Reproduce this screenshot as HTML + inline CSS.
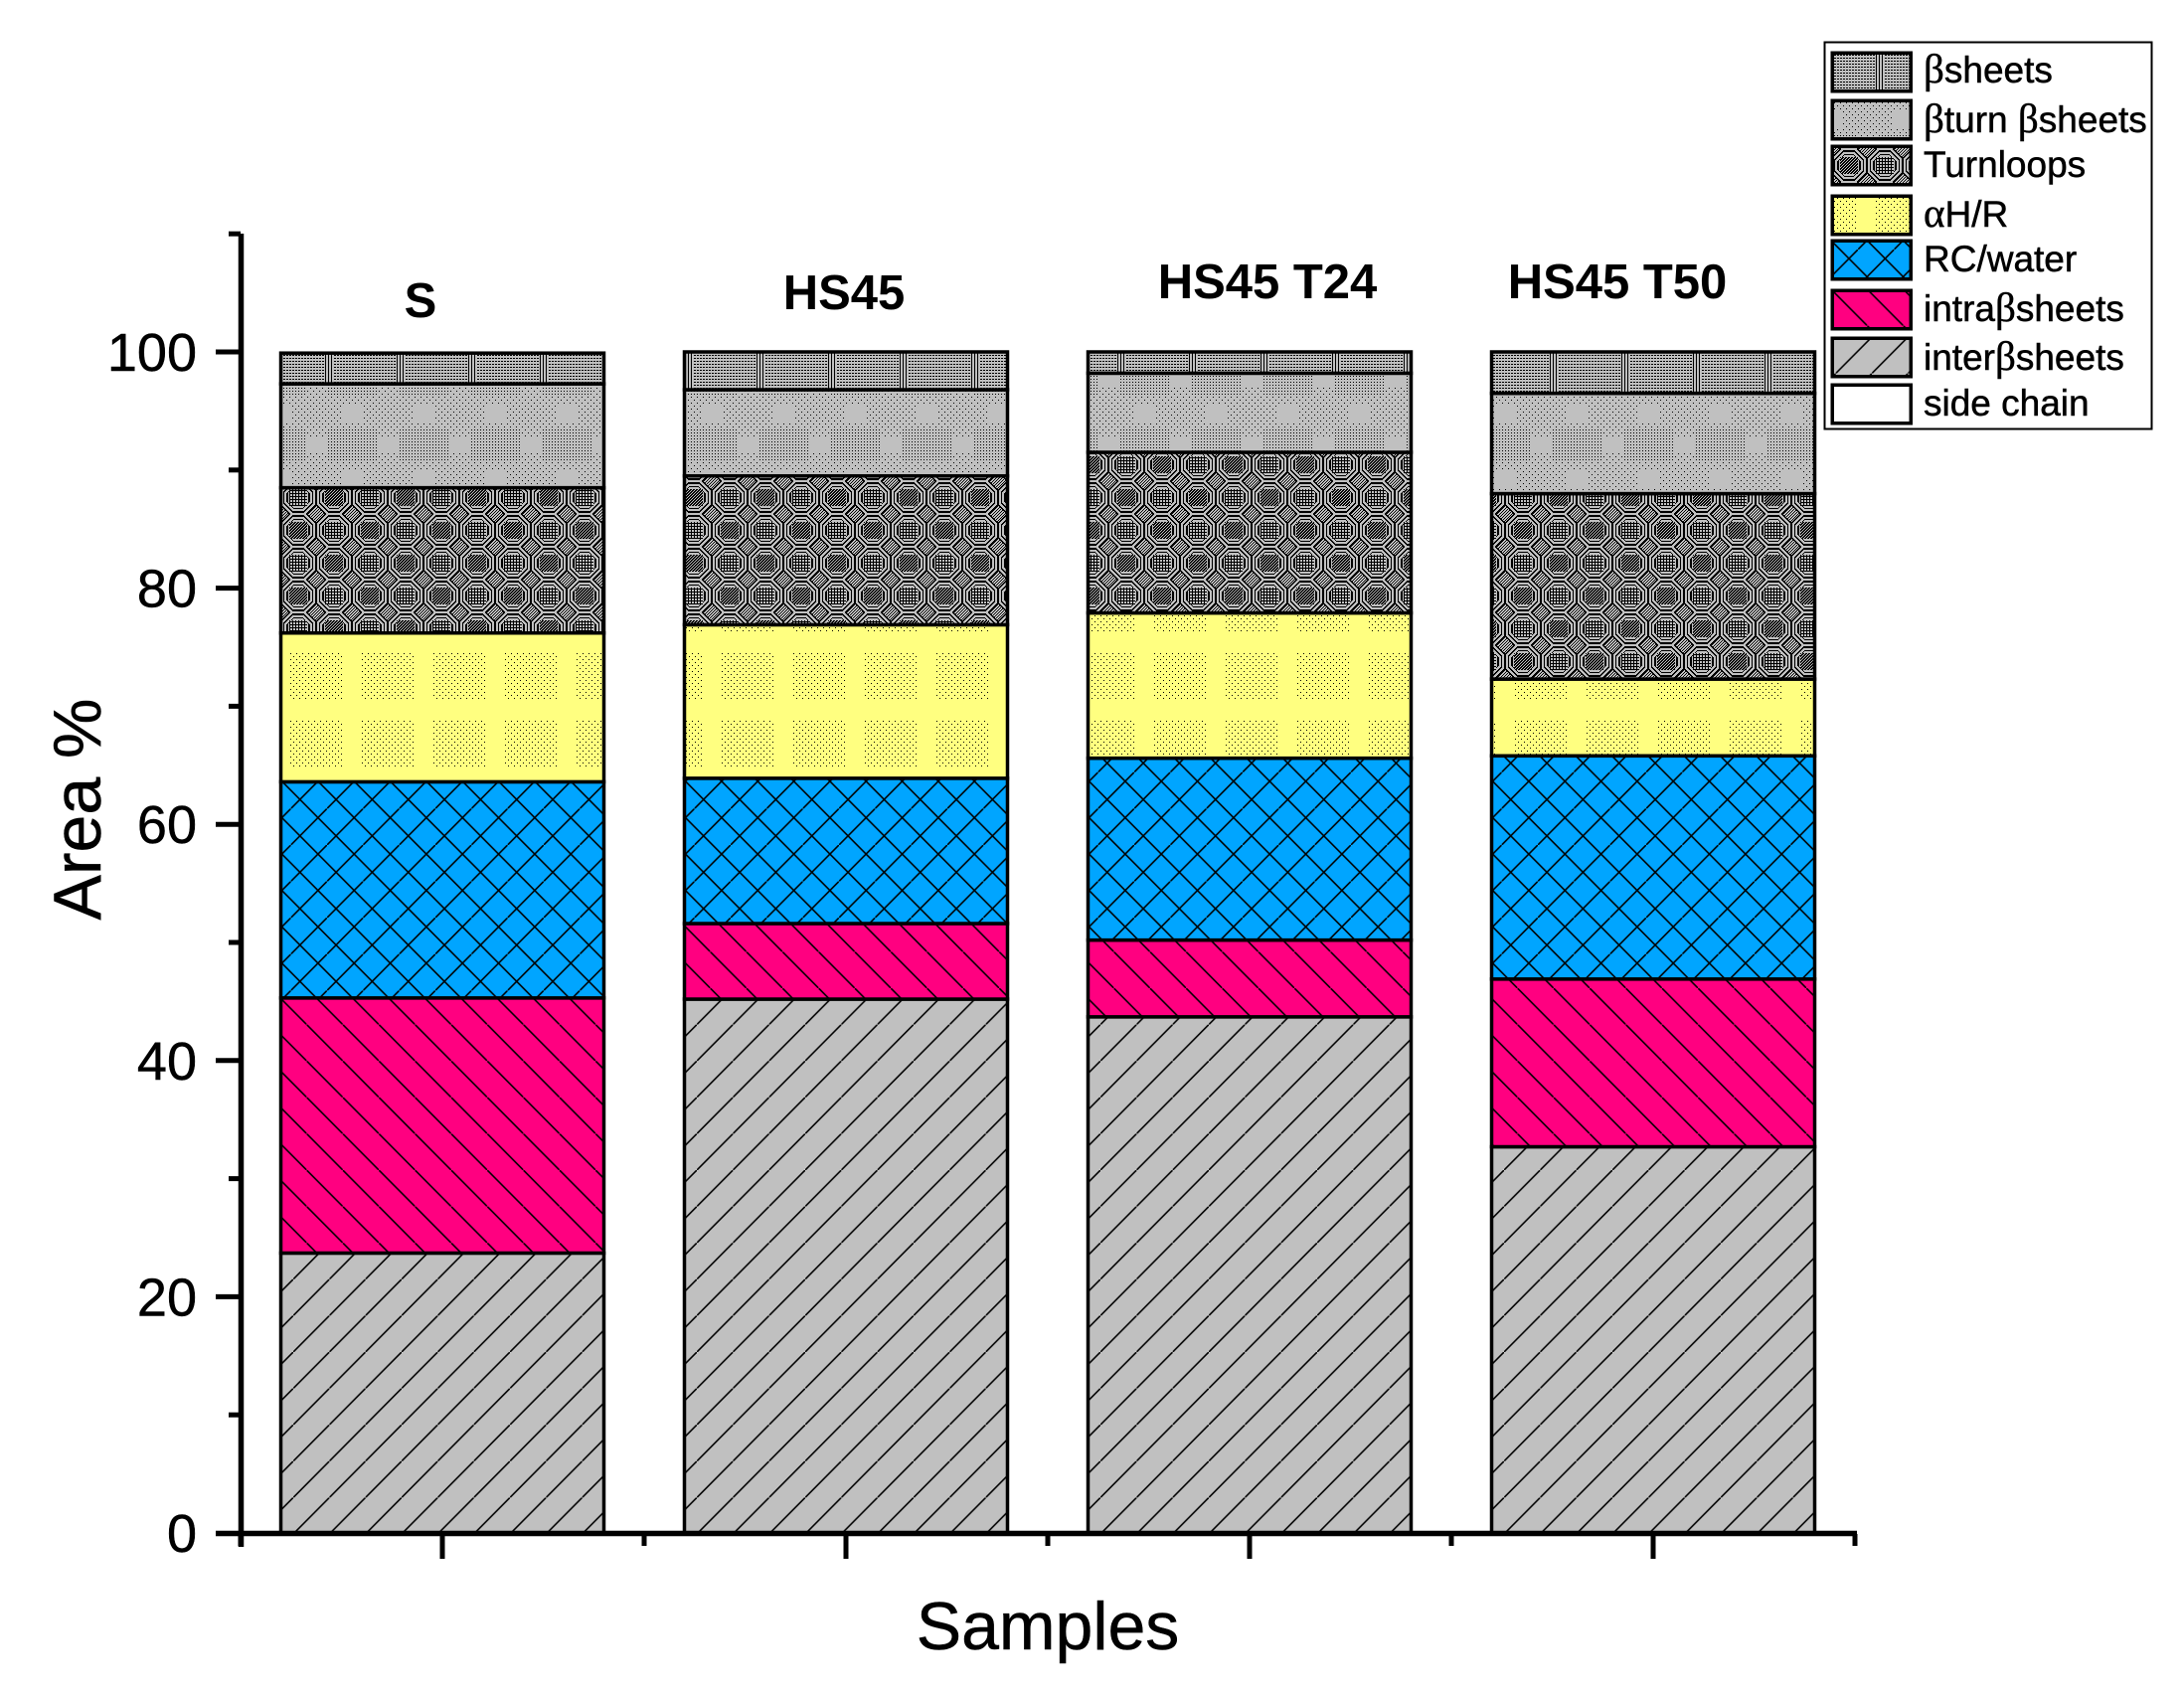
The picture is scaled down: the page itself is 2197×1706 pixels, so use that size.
<!DOCTYPE html>
<html lang="en">
<head>
<meta charset="utf-8">
<title>Area % by sample</title>
<style>
html,body{margin:0;padding:0;background:#fff;}
svg{display:block;font-family:"Liberation Sans",sans-serif;}
.g{font-family:"Liberation Serif",serif;font-size:41px;}
.w{stroke:#000;stroke-width:.5px;}
</style>
</head>
<body>
<svg id="chart" xmlns="http://www.w3.org/2000/svg" width="2197" height="1706" viewBox="0 0 2197 1706">
<defs id="defs">
  <pattern id="p-inter" patternUnits="userSpaceOnUse" width="36.33" height="36.6" patternTransform="translate(14,1)">
    <rect width="38" height="38" fill="#c0c0c0"/>
    <path d="M-1 37.607L37.33 -1.007" stroke="#000" stroke-width="1.6" fill="none"/>
  </pattern>
  <pattern id="p-intra" patternUnits="userSpaceOnUse" width="36.33" height="36.6" patternTransform="translate(27.5,1)">
    <rect width="38" height="38" fill="#ff0080"/>
    <path d="M-1 -1.007L37.33 37.607" stroke="#000" stroke-width="1.6" fill="none"/>
  </pattern>
  <pattern id="p-rc" patternUnits="userSpaceOnUse" width="36.33" height="36.6" patternTransform="translate(11.65,3.35)">
    <rect width="38" height="38" fill="#00a5ff"/>
    <path d="M-1 37.607L37.33 -1.007M-1 17.29L19.165 37.607M17.165 -1.007L37.33 19.307" stroke="#000" stroke-width="1.6" fill="none"/>
  </pattern>
  <pattern id="l-inter" patternUnits="userSpaceOnUse" width="36.33" height="36.6" patternTransform="translate(4.7,0)">
    <rect width="38" height="38" fill="#c0c0c0"/>
    <path d="M-1 37.607L37.33 -1.007" stroke="#000" stroke-width="1.6" fill="none"/>
  </pattern>
  <pattern id="l-intra" patternUnits="userSpaceOnUse" width="36.33" height="36.6">
    <rect width="38" height="38" fill="#ff0080"/>
    <path d="M-1 -1.007L37.33 37.607" stroke="#000" stroke-width="1.6" fill="none"/>
  </pattern>
  <pattern id="l-rc" patternUnits="userSpaceOnUse" width="36.33" height="36.6" patternTransform="translate(-9.25,9.95)">
    <rect width="38" height="38" fill="#00a5ff"/>
    <path d="M-1 37.607L37.33 -1.007M-1 17.29L19.165 37.607M17.165 -1.007L37.33 19.307" stroke="#000" stroke-width="1.6" fill="none"/>
  </pattern>
</defs>

<g id="bars"></g>
<g id="axes"></g>

<text class="w" x="1054" y="1659" font-size="68" text-anchor="middle">Samples</text>
<text class="w" transform="translate(101,814) rotate(-90)" font-size="68" text-anchor="middle">Area %</text>

<text x="423" y="319" font-weight="700" font-size="49" text-anchor="middle">S</text>
<text x="849" y="311" font-weight="700" font-size="49" text-anchor="middle">HS45</text>
<text x="1275" y="300" font-weight="700" font-size="49" text-anchor="middle">HS45 T24</text>
<text x="1627" y="300" font-weight="700" font-size="49" text-anchor="middle">HS45 T50</text>

<g>
  <rect x="1835.5" y="42.5" width="329" height="389" fill="#fff" stroke="#000" stroke-width="2"/>
  <g>
    <g transform="translate(1842,52)"><rect x="1.25" y="1.25" width="79" height="38.5" fill="url(#l-beta)" stroke="#000" stroke-width="3.5"/></g>
    <text class="w" x="1935" y="83" font-size="37"><tspan class="g">β</tspan>sheets</text>
  </g>
  <g>
    <g transform="translate(1842,100)"><rect x="1.25" y="1.25" width="79" height="38.5" fill="url(#l-turn)" stroke="#000" stroke-width="3.5"/></g>
    <text class="w" x="1935" y="133" font-size="37"><tspan class="g">β</tspan>turn <tspan class="g">β</tspan>sheets</text>
  </g>
  <g>
    <g transform="translate(1842,146)"><rect x="1.25" y="1.25" width="79" height="38.5" fill="url(#l-loops)" stroke="#000" stroke-width="3.5"/></g>
    <text class="w" x="1935" y="178" font-size="37">Turnloops</text>
  </g>
  <g>
    <g transform="translate(1842,196)"><rect x="1.25" y="1.25" width="79" height="38.5" fill="url(#l-alpha)" stroke="#000" stroke-width="3.5"/></g>
    <text class="w" x="1935" y="228" font-size="37"><tspan class="g">α</tspan>H/R</text>
  </g>
  <g>
    <g transform="translate(1842,241)"><rect x="1.25" y="1.25" width="79" height="38.5" fill="url(#l-rc)" stroke="#000" stroke-width="3.5"/></g>
    <text class="w" x="1935" y="273" font-size="37">RC/water</text>
  </g>
  <g>
    <g transform="translate(1842,291)"><rect x="1.25" y="1.25" width="79" height="38.5" fill="url(#l-intra)" stroke="#000" stroke-width="3.5"/></g>
    <text class="w" x="1935" y="323" font-size="37">intra<tspan class="g">β</tspan>sheets</text>
  </g>
  <g>
    <g transform="translate(1842,339)"><rect x="1.25" y="1.25" width="79" height="38.5" fill="url(#l-inter)" stroke="#000" stroke-width="3.5"/></g>
    <text class="w" x="1935" y="372" font-size="37">inter<tspan class="g">β</tspan>sheets</text>
  </g>
  <g>
    <g transform="translate(1842,386)"><rect x="1.25" y="1.25" width="79" height="38.5" fill="#fff" stroke="#000" stroke-width="3.5"/></g>
    <text class="w" x="1935" y="418" font-size="37">side chain</text>
  </g>
</g>
</svg>

<script>
// Chart data
var categories = ["S", "HS45", "HS45 T24", "HS45 T50"];
var sideChain  = [0, 0, 0, 0];
var interBeta  = [23.7, 45.2, 43.7, 32.7];
var intraBeta  = [21.6, 6.4, 6.5, 14.2];
var rcWater    = [18.3, 12.3, 15.4, 18.9];
var alphaHR    = [12.6, 13.0, 12.3, 6.5];
var turnLoops  = [12.3, 12.6, 13.6, 15.7];
var betaTurn   = [8.8, 7.3, 6.7, 8.5];
var betaSheets = [2.6, 3.2, 1.8, 3.5];
var yMajorTicks = [0, 20, 40, 60, 80, 100];
var yMinorTicks = [10, 30, 50, 70, 90, 110];

var NS = "http://www.w3.org/2000/svg";
function yPx(v) { return 1542 - 11.88 * v; }
function hPx(v) { return 11.88 * v; }
function xCenter(i) { return 445 + 406 * i; }
var barRectWidth = 325;

// Fine dither tiles
function tilePath(fn, w, h) {
  var d = "";
  for (var y = 0; y < h; y++) {
    for (var x = 0; x < w; x++) {
      if (fn(x, y)) d += "M" + x + " " + y + "h1v1h-1z";
    }
  }
  return d;
}
function sparse(x, y) { return (x % 6 === 0 && y % 6 === 0) || (x % 6 === 3 && y % 6 === 3); }
var loopsTile = tilePath(function (x, y) {
  var ci = Math.floor(x / 36), cj = Math.floor(y / 33);
  var dx = Math.abs(x + 0.5 - 36 * ci - 18), dy = Math.abs(y + 0.5 - 33 * cj - 16.5);
  var t = (ci + cj) % 2;
  if (dx < 9 && dy < 9) {
    if (t === 0) return (x + y) % 3 !== 0;
    return x % 3 === 0 || y % 3 === 0;
  }
  if (dx + dy > 26) return (x + y) % 3 === 0;
  var d = Math.max(dx, dy, (dx + dy) * 0.72);
  return (d % 3.5) < 1.25;
}, 72, 66);
var turnTile = tilePath(function (x, y) {
  var ax = Math.abs(x + 0.5 - 18), ay = Math.abs(y + 0.5 - 16.5);
  var bx = Math.abs(x + 0.5 - 54), by = Math.abs(y + 0.5 - 49.5);
  if (ax < 10 && ay < 8) return false;
  if (bx < 10 && by < 9) return false;
  if (y < 33 && !(x >= 8 && x < 28)) return x % 3 === 0 && y % 3 === 0;
  return sparse(x, y);
}, 72, 66);
var betaTile = tilePath(function (x, y) {
  if (Math.abs(x - 48) < 5) return x % 3 === 0;
  return y % 3 === 0 && x % 3 !== 2;
}, 72, 66);
var alphaTile = tilePath(function (x, y) {
  if (x >= 52 || y >= 48) return false;
  return sparse(x, y);
}, 72, 68);

function makePattern(id, d, w, h, bg, tx, ty) {
  var p = document.createElementNS(NS, "pattern");
  p.setAttribute("id", id);
  p.setAttribute("patternUnits", "userSpaceOnUse");
  p.setAttribute("width", w);
  p.setAttribute("height", h);
  p.setAttribute("patternTransform", "translate(" + tx + "," + ty + ")");
  var r = document.createElementNS(NS, "rect");
  r.setAttribute("width", w);
  r.setAttribute("height", h);
  r.setAttribute("fill", bg);
  p.appendChild(r);
  var t = document.createElementNS(NS, "path");
  t.setAttribute("d", d);
  t.setAttribute("fill", "#000");
  t.setAttribute("shape-rendering", "crispEdges");
  p.appendChild(t);
  document.getElementById("defs").appendChild(p);
}
// legend swatch patterns
makePattern("l-loops", loopsTile, 72, 66, "#c0c0c0", 0, 4);
makePattern("l-turn", turnTile, 72, 66, "#c0c0c0", 18, -30);
makePattern("l-beta", betaTile, 72, 66, "#c0c0c0", 0, 0);
makePattern("l-alpha", alphaTile, 72, 68, "#ffff80", -27, 0);
// per-bar patterns: the dither runs on a page-wide grid of 72.5 px
function barPhase(i) { return -Math.round((xCenter(i) - xCenter(0)) % 72.5); }
categories.forEach(function (cat, i) {
  makePattern("p-loops-" + i, loopsTile, 72, 66, "#c0c0c0", 37 + barPhase(i), -2);
  makePattern("p-turn-" + i, turnTile, 72, 66, "#c0c0c0", 19 + barPhase(i), 12);
  makePattern("p-beta-" + i, betaTile, 72, 66, "#c0c0c0", 1 + barPhase(i), 0);
  makePattern("p-alpha-" + i, alphaTile, 72, 68, "#ffff80", 11 + barPhase(i), 67);
});

var stackOrder = [
  {key: "side-chain", vals: sideChain, fill: function () { return "#ffffff"; }},
  {key: "inter-beta-sheets", vals: interBeta, fill: function () { return "url(#p-inter)"; }},
  {key: "intra-beta-sheets", vals: intraBeta, fill: function () { return "url(#p-intra)"; }},
  {key: "rc-water", vals: rcWater, fill: function () { return "url(#p-rc)"; }},
  {key: "alpha-hr", vals: alphaHR, fill: function (i) { return "url(#p-alpha-" + i + ")"; }},
  {key: "turnloops", vals: turnLoops, fill: function (i) { return "url(#p-loops-" + i + ")"; }},
  {key: "beta-turn", vals: betaTurn, fill: function (i) { return "url(#p-turn-" + i + ")"; }},
  {key: "beta-sheets", vals: betaSheets, fill: function (i) { return "url(#p-beta-" + i + ")"; }}
];

// Bars
var barsG = document.getElementById("bars");
categories.forEach(function (cat, i) {
  var g = document.createElementNS(NS, "g");
  
  
  g.setAttribute("transform", "translate(" + (xCenter(i) - 164) + ",1542)");
  var cum = 0;
  stackOrder.forEach(function (s) {
    var v = s.vals[i];
    if (v > 0) {
      var r = document.createElementNS(NS, "rect");
      
      
      r.setAttribute("x", 1.5);
      r.setAttribute("width", barRectWidth);
      r.setAttribute("y", -hPx(cum + v));
      r.setAttribute("height", hPx(v));
      r.setAttribute("fill", s.fill(i));
      r.setAttribute("stroke", "#000");
      r.setAttribute("stroke-width", 3.5);
      g.appendChild(r);
    }
    cum += v;
  });
  barsG.appendChild(g);
});

// Axes
var axesG = document.getElementById("axes");
function line(x1, y1, x2, y2, w, name) {
  var l = document.createElementNS(NS, "line");
  
  
  l.setAttribute("x1", x1);
  l.setAttribute("y1", y1);
  l.setAttribute("x2", x2);
  l.setAttribute("y2", y2);
  l.setAttribute("stroke", "#000");
  l.setAttribute("stroke-width", w);
  axesG.appendChild(l);
}
line(242.5, 235, 242.5, 1556, 5.5, "y-axis-line");
line(217, 1542.5, 1868, 1542.5, 5.5, "x-axis-line");
yMajorTicks.forEach(function (v) {
  if (v > 0) { line(217, yPx(v), 242, yPx(v), 5, "y-major-tick"); }
  var t = document.createElementNS(NS, "text");
  
  
  t.setAttribute("class", "w");
  t.setAttribute("x", 198);
  t.setAttribute("y", yPx(v) + 19);
  t.setAttribute("font-size", 54);
  t.setAttribute("text-anchor", "end");
  t.textContent = String(v);
  axesG.appendChild(t);
});
yMinorTicks.forEach(function (v) {
  line(230, yPx(v), 242, yPx(v), 5, "y-minor-tick");
});
categories.forEach(function (cat, i) {
  line(xCenter(i), 1543, xCenter(i), 1568, 5, "x-major-tick");
  line(xCenter(i) - 203, 1543, xCenter(i) - 203, 1555, 5, "x-minor-tick");
});
line(xCenter(categories.length - 1) + 203, 1543, xCenter(categories.length - 1) + 203, 1555, 5, "x-minor-tick");
</script>
</body>
</html>
